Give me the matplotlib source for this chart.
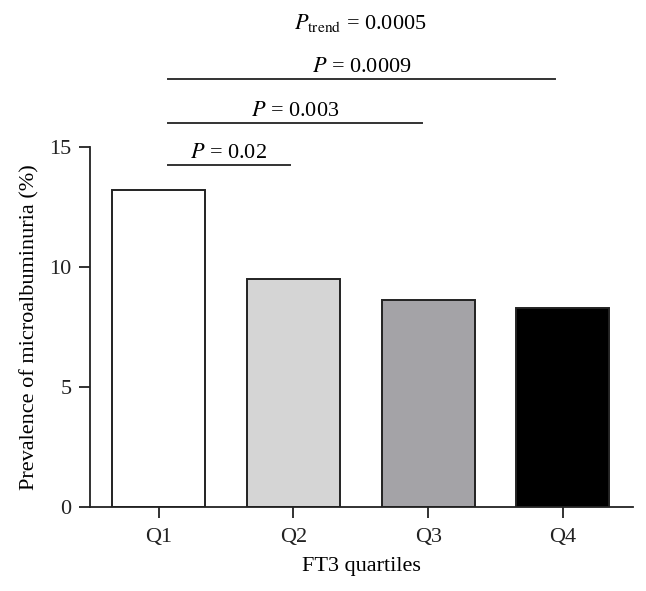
import numpy as np
import matplotlib
matplotlib.use("Agg")
import matplotlib.pyplot as plt

plt.rcParams['font.family'] = ['Liberation Serif', 'DejaVu Serif']
plt.rcParams['mathtext.fontset'] = 'stix'

# data
quartiles = ['Q1', 'Q2', 'Q3', 'Q4']
prevalence = [13.22, 9.52, 8.65, 8.29]
bar_colors = ['#ffffff', '#d5d5d5', '#a4a3a7', '#000000']

# pairwise comparisons (Q1 vs Qk) and their p values
comparisons = [(0, 1, '0.02'), (0, 2, '0.003'), (0, 3, '0.0009')]
p_trend = '0.0005'

fs = 16

fig = plt.figure(figsize=(6.46, 5.91), dpi=100)
ax = fig.add_axes([0.139, 0.142, 0.841, 0.609])

x = np.arange(len(quartiles))
ax.bar(x, prevalence, width=0.69, color=bar_colors, edgecolor='#222222', linewidth=1.4)

ax.set_xlim(-0.51, 3.52)
ax.set_ylim(0, 15)
ax.set_yticks([0, 5, 10, 15])
ax.set_xticks(x)
ax.set_xticklabels(quartiles)
ax.tick_params(axis='both', direction='out', length=8, width=1.3, labelsize=fs, colors='#222222')
ax.tick_params(axis='x', pad=7)
ax.tick_params(axis='y', pad=5)
for s in ['top', 'right']:
    ax.spines[s].set_visible(False)
for s in ['left', 'bottom']:
    ax.spines[s].set_linewidth(1.3)
    ax.spines[s].set_color('#222222')

ax.set_xlabel('FT3 quartiles', fontsize=fs, labelpad=7)
ax.set_ylabel('Prevalence of microalbuminuria (%)', fontsize=fs, labelpad=7)

# significance lines above the bars (y in data units)
line_y = [14.25, 16.0, 17.83]
for (a, b, p), yy in zip(comparisons, line_y):
    x0 = a + 0.07
    x1 = b - 0.05 * b / 3 - 0.01
    ax.plot([x0, x1], [yy, yy], color='#333333', lw=1.4, clip_on=False)
    ax.text((x0 + x1) / 2, yy + 0.3, r'$P$ = ' + p, ha='center', va='baseline',
            fontsize=fs, clip_on=False)

ax.text((0.07 + 2.93) / 2, 19.92, r'$P_{\rm trend}$ = ' + p_trend, ha='center',
        va='baseline', fontsize=fs, clip_on=False)

fig.savefig('out.png', dpi=100)
